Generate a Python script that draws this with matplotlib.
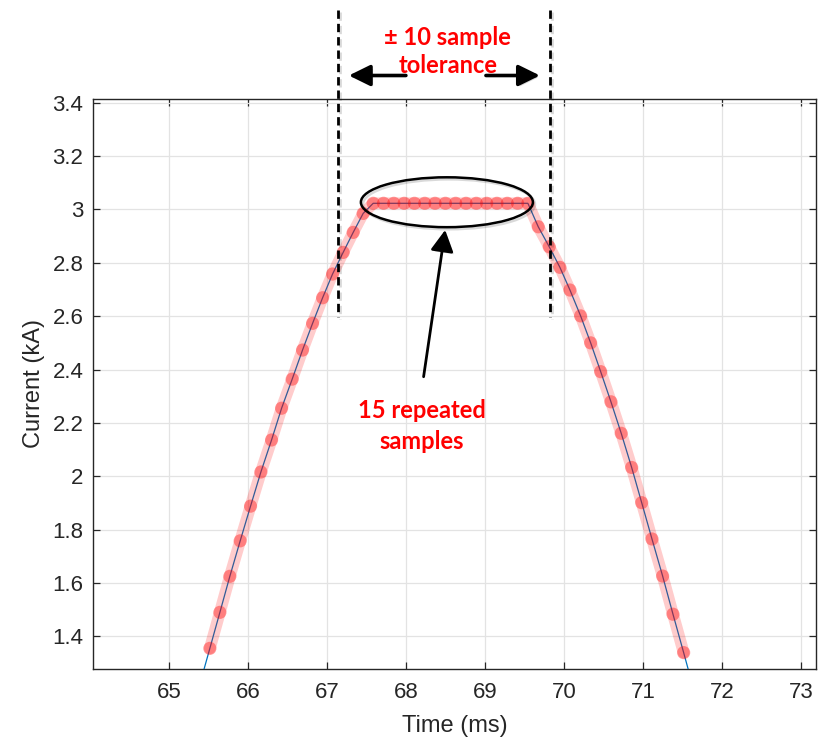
import matplotlib
matplotlib.use('Agg')
import matplotlib.pyplot as plt
import matplotlib.patheffects as pe
from matplotlib.patches import Ellipse

plt.rcParams['font.family'] = ['Liberation Sans', 'DejaVu Sans']

# current samples (ms, kA)
rise_ms = [65.519, 65.646, 65.772, 65.903, 66.034, 66.165, 66.300, 66.427,
           66.561, 66.692, 66.819, 66.946, 67.072, 67.206, 67.333, 67.459]
rise_ka = [1.355, 1.490, 1.625, 1.758, 1.888, 2.016, 2.136, 2.255,
           2.364, 2.473, 2.573, 2.669, 2.758, 2.839, 2.914, 2.985]
flat_ms = [67.586, 67.717, 67.847, 67.978, 68.108, 68.239, 68.369, 68.500,
           68.630, 68.761, 68.891, 69.022, 69.152, 69.283, 69.413, 69.544]
flat_ka = [3.023, 3.023, 3.023, 3.023, 3.023, 3.023, 3.023, 3.023,
           3.023, 3.023, 3.023, 3.023, 3.023, 3.023, 3.023, 3.023]
fall_ms = [69.675, 69.814, 69.949, 70.076, 70.211, 70.338, 70.465, 70.595,
           70.725, 70.857, 70.984, 71.114, 71.249, 71.380, 71.515]
fall_ka = [2.935, 2.860, 2.783, 2.698, 2.601, 2.500, 2.392, 2.279,
           2.161, 2.033, 1.901, 1.765, 1.626, 1.483, 1.339]
# samples just outside the visible range (blue trace only)
start_ms, start_ka = 65.390, 1.218
end_ms, end_ka = 71.648, 1.195

xticks = [65, 66, 67, 68, 69, 70, 71, 72, 73]
yticks = [1.4, 1.6, 1.8, 2.0, 2.2, 2.4, 2.6, 2.8, 3.0, 3.2, 3.4]
ytick_labels = ['1.4', '1.6', '1.8', '2', '2.2', '2.4', '2.6', '2.8', '3', '3.2', '3.4']

marked_ms = rise_ms + flat_ms + fall_ms
marked_ka = rise_ka + flat_ka + fall_ka
all_ms = [start_ms] + marked_ms + [end_ms]
all_ka = [start_ka] + marked_ka + [end_ka]

fig = plt.figure(figsize=(8.25, 7.40), dpi=100)
ax = fig.add_axes([0.1127, 0.0959, 0.8764, 0.7707])

grey = '#262626'
ax.plot(all_ms, all_ka, color='#0072BD', lw=0.9, zorder=3)
ax.plot(marked_ms, marked_ka, color=(1, 0, 0, 0.2), lw=8.5,
        solid_capstyle='round', zorder=4)
ax.scatter(marked_ms, marked_ka, s=90, color=(1, 0, 0, 0.38), edgecolors='none', zorder=5)

ax.set_xlim(64.04, 73.19)
ax.set_ylim(1.2775, 3.415)
ax.set_xticks(xticks)
ax.set_yticks(yticks)
ax.set_yticklabels(ytick_labels)
ax.grid(True, color='#e3e3e3', lw=0.9)
ax.set_axisbelow(True)
ax.tick_params(direction='in', length=5, width=0.9, colors=grey, labelsize=16,
               top=True, right=True, labelcolor=grey)
ax.tick_params(axis='x', pad=9)
ax.tick_params(axis='y', pad=7)
for s in ax.spines.values():
    s.set_color(grey)
    s.set_linewidth(1.0)
ax.set_xlabel('Time (ms)', fontsize=17, color=grey, labelpad=9)
ax.set_ylabel('Current (kA)', fontsize=17, color=grey, labelpad=5)

# annotations
shadow = [pe.SimpleLineShadow(offset=(1.5, -1.5), shadow_color='k', alpha=0.15), pe.Normal()]
pshadow = [pe.SimplePatchShadow(offset=(1.5, -1.5), shadow_rgbFace='k', alpha=0.15), pe.Normal()]

for xd in [67.135, 69.823]:
    ax.plot([xd, xd], [3.747, 2.597], color='k', lw=2.0, dashes=(3, 1.8),
            clip_on=False, zorder=6, path_effects=shadow)

arrow_kw = dict(arrowstyle='-|>,head_length=0.65,head_width=0.32', color='k',
                lw=2.6, mutation_scale=20, shrinkA=0, shrinkB=0)
ax.annotate('', xy=(67.278, 3.502), xytext=(68.0, 3.502), annotation_clip=False,
            arrowprops=dict(arrow_kw, path_effects=pshadow), zorder=6)
ax.annotate('', xy=(69.696, 3.502), xytext=(69.013, 3.502), annotation_clip=False,
            arrowprops=dict(arrow_kw, path_effects=pshadow), zorder=6)

red_txt = dict(color='red', fontsize=17, fontweight='bold', ha='center', va='center',
               family=['Lato', 'DejaVu Sans'], clip_on=False)
ax.text(68.532, 3.646, '± 10 sample', **red_txt)
ax.text(68.532, 3.541, 'tolerance', **red_txt)

ell = Ellipse((68.519, 3.027), 2.177, 0.187, fill=False, ec='k', lw=1.8, zorder=7,
              path_effects=shadow)
ax.add_patch(ell)
ax.annotate('', xy=(68.497, 2.923), xytext=(68.224, 2.373),
            arrowprops=dict(arrowstyle='-|>,head_length=0.65,head_width=0.35', color='k',
                            lw=2.0, mutation_scale=20, shrinkA=0, shrinkB=0,
                            path_effects=pshadow), zorder=7)
ax.text(68.198, 2.248, '15 repeated', **red_txt)
ax.text(68.198, 2.129, 'samples', **red_txt)

fig.savefig('out.png', dpi=100)
